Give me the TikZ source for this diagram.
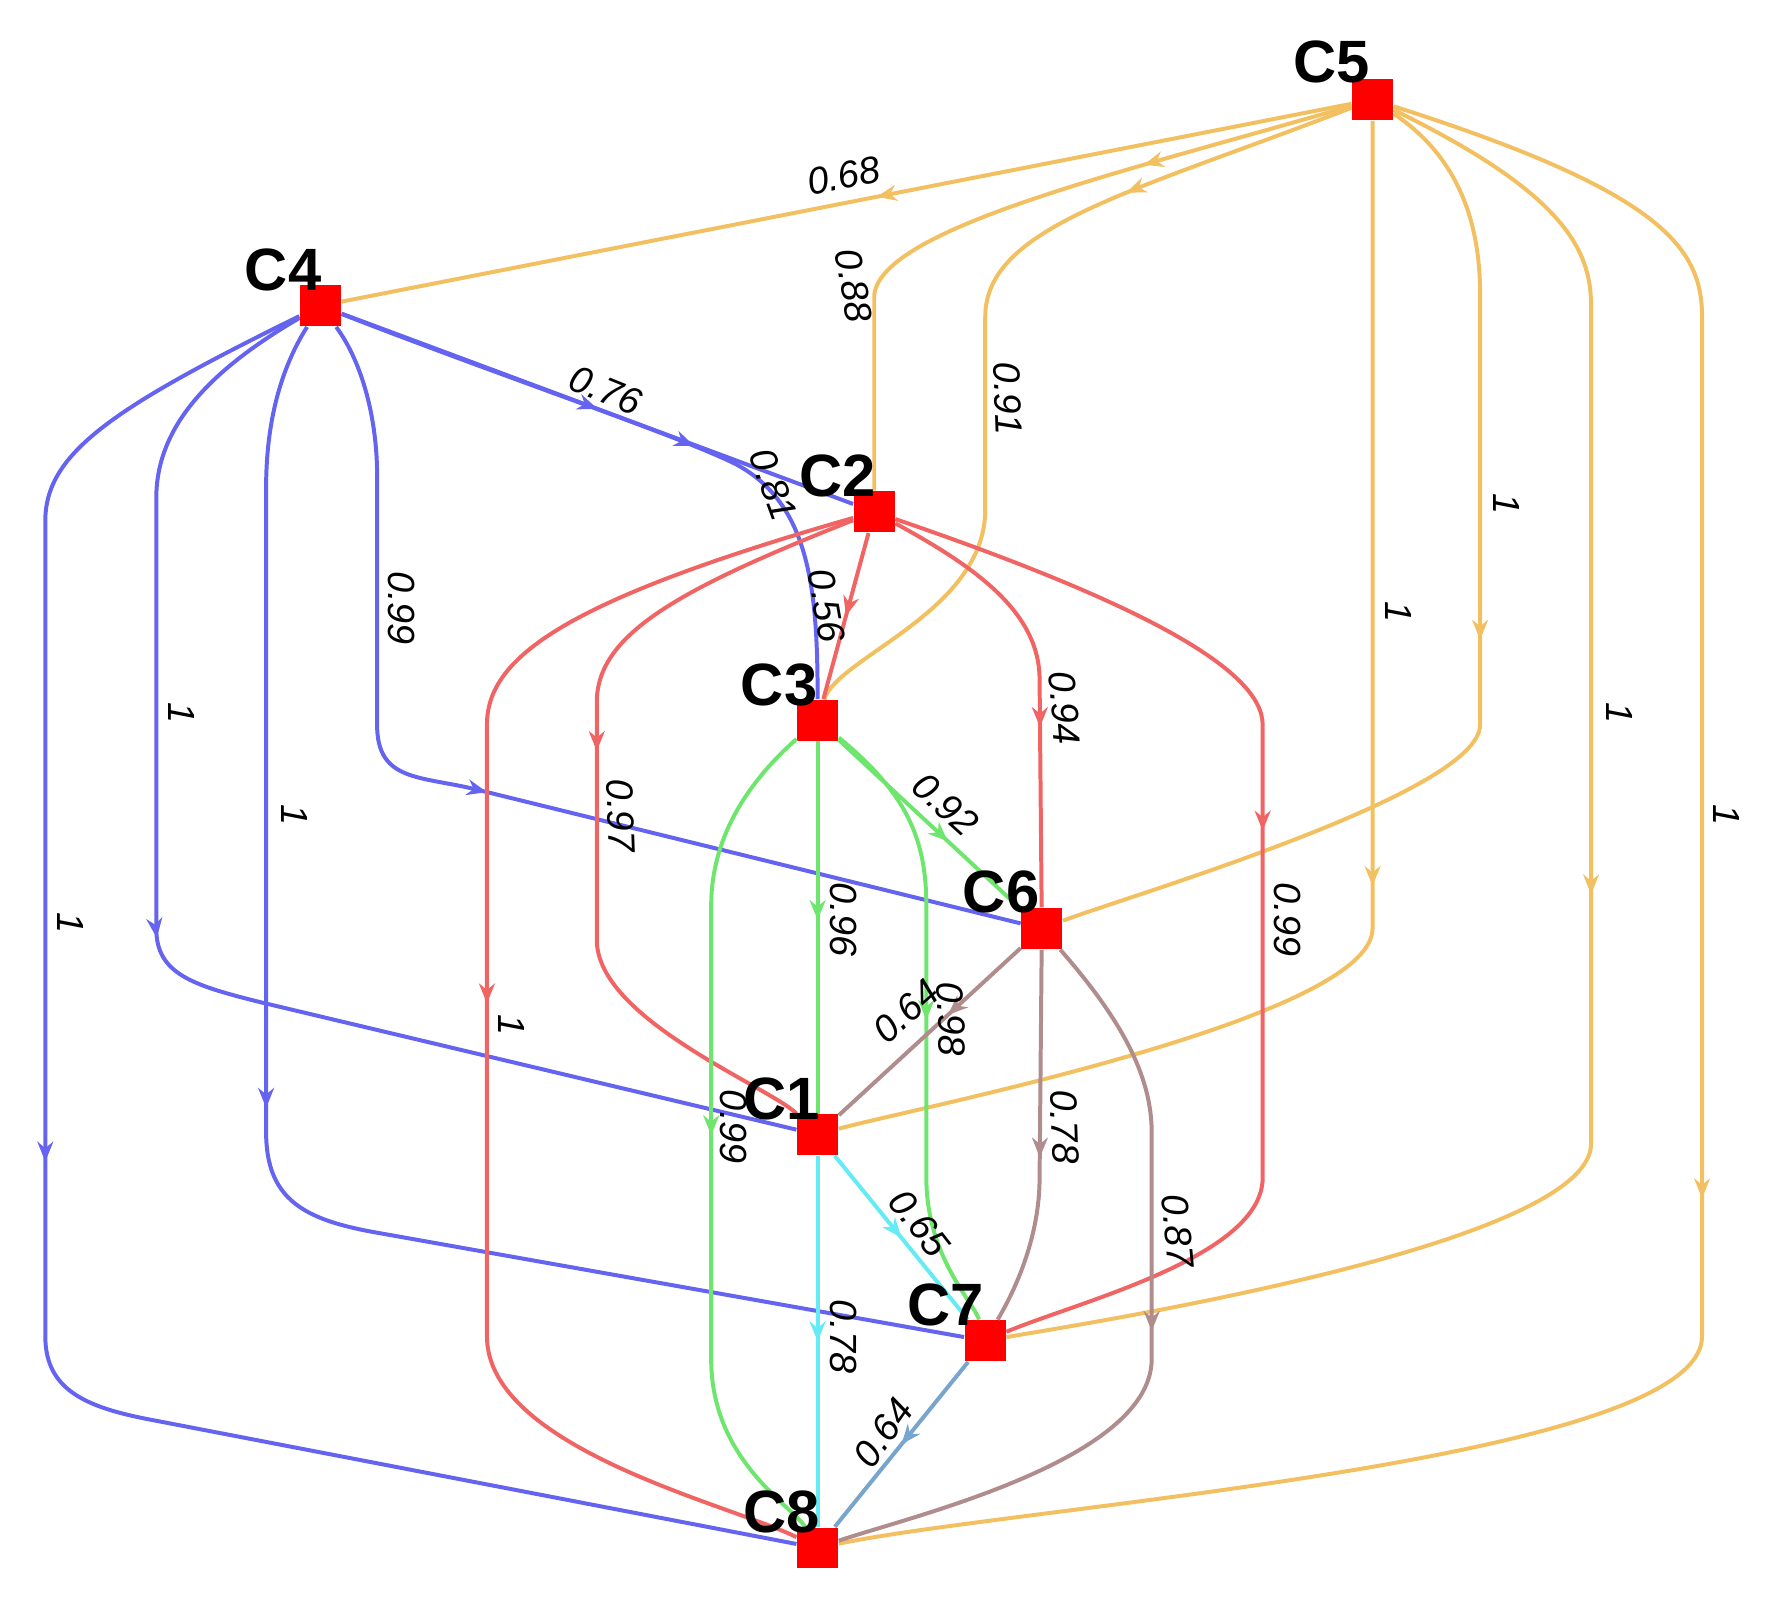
\documentclass[tikz,border=0pt]{standalone}
\usepackage{fontspec}
\setmainfont{Liberation Sans}
\usetikzlibrary{arrows.meta,decorations.markings}
\definecolor{eor}{RGB}{242,192,96}
\definecolor{ebl}{RGB}{100,100,240}
\definecolor{ere}{RGB}{240,100,100}
\definecolor{egr}{RGB}{110,230,110}
\definecolor{ebr}{RGB}{176,140,140}
\definecolor{ecy}{RGB}{100,235,245}
\definecolor{est}{RGB}{120,165,205}
\begin{document}
\begin{tikzpicture}[x=0.01cm,y=-0.01cm,
  sq/.style={fill=red,minimum size=0.36cm,inner sep=0,draw=none},
  nl/.style={font=\bfseries\fontsize{15}{15}\selectfont},
  lab/.style={font=\itshape\fontsize{9.5}{10}\selectfont,inner sep=0},
  e/.style={line width=1pt},
  ma/.style={postaction={decorate,decoration={markings,mark=at position #1 with {\arrow{Stealth[length=5pt,width=4pt]}}}}},
  o/.style={e,eor},b/.style={e,ebl},r/.style={e,ere},g/.style={e,egr},br/.style={e,ebr},cy/.style={e,ecy},st/.style={e,est}]
\useasboundingbox (0,0) rectangle (1563,1412);
\node[sq] (C5) at (1212,88) {};
\node[sq] (C4) at (283,270) {};
\node[sq] (C2) at (772,452) {};
\node[sq] (C3) at (722,636) {};
\node[sq] (C6) at (920,820) {};
\node[sq] (C1) at (722,1002) {};
\node[sq] (C7) at (870,1184) {};
\node[sq] (C8) at (722,1367) {};
% orange
\draw[o,ma=.47] (C5) -- (C4);
\draw[o,ma=.3] (C5) .. controls (1000,150) and (780,200) .. (772,260) -- (C2);
\draw[o,ma=.27] (C5) .. controls (1000,170) and (870,200) .. (870,280) -- (870,450) .. controls (870,540) and (740,580) .. (C3);
\draw[o,ma=.5] (C5) .. controls (1290,140) and (1307,200) .. (1307,260) -- (1307,640) .. controls (1307,700) and (1000,790) .. (C6);
\draw[o,ma=.55] (C5) -- (1212,820) .. controls (1212,900) and (800,980) .. (C1);
\draw[o,ma=.5] (C5) .. controls (1380,170) and (1405,220) .. (1405,270) -- (1405,1010) .. controls (1405,1100) and (950,1170) .. (C7);
\draw[o,ma=.55] (C5) .. controls (1470,170) and (1503,220) .. (1503,280) -- (1503,1180) .. controls (1503,1290) and (900,1330) .. (C8);
% blue
\draw[b,ma=.5] (C4) -- (C2);
\draw[b,ma=.55] (C4) .. controls (450,335) and (600,385) .. (650,410) .. controls (715,445) and (722,520) .. (C3);
\draw[b,ma=.5] (C4) .. controls (320,320) and (333,370) .. (333,420) -- (333,640) .. controls (333,690) and (370,685) .. (420,697) -- (C6);
\draw[b,ma=.5] (C4) .. controls (180,330) and (138,380) .. (138,440) -- (138,820) .. controls (138,860) and (170,870) .. (230,885) -- (C1);
\draw[b,ma=.5] (C4) .. controls (245,330) and (235,380) .. (235,430) -- (235,1000) .. controls (235,1060) and (270,1077) .. (330,1088) -- (C7);
\draw[b,ma=.5] (C4) .. controls (100,360) and (40,400) .. (40,460) -- (40,1180) .. controls (40,1230) and (80,1244) .. (140,1255) -- (C8);
% red
\draw[r,ma=.5] (C2) -- (C3);
\draw[r,ma=.6] (C2) .. controls (860,500) and (918,540) .. (918,600) -- (C6);
\draw[r,ma=.45] (C2) .. controls (600,520) and (527,560) .. (527,620) -- (527,830) .. controls (527,900) and (680,960) .. (C1);
\draw[r,ma=.5] (C2) .. controls (500,530) and (430,580) .. (430,640) -- (430,1180) .. controls (430,1280) and (650,1330) .. (C8);
\draw[r,ma=.45] (C2) .. controls (1000,530) and (1115,590) .. (1115,640) -- (1115,1040) .. controls (1115,1110) and (950,1150) .. (C7);
% green
\draw[g,ma=.6] (C3) -- (C6);
\draw[g,ma=.48] (C3) -- (C1);
\draw[g,ma=.5] (C3) .. controls (800,700) and (818,740) .. (818,800) -- (818,1040) .. controls (818,1110) and (860,1150) .. (C7);
\draw[g,ma=.5] (C3) .. controls (650,700) and (628,750) .. (628,800) -- (628,1200) .. controls (628,1290) and (700,1330) .. (C8);
% brown
\draw[br,ma=.4] (C6) -- (C1);
\draw[br,ma=.55] (C6) -- (918,1040) .. controls (918,1100) and (890,1150) .. (C7);
\draw[br,ma=.5] (C6) .. controls (990,900) and (1017,950) .. (1017,1000) -- (1017,1200) .. controls (1017,1290) and (800,1340) .. (C8);
% cyan / steel
\draw[cy,ma=.5] (C1) -- (C7);
\draw[cy,ma=.5] (C1) -- (C8);
\draw[st,ma=.5] (C7) -- (C8);
% names
\node[nl] (n5) at (1176,55) {C5};
\node[nl] (n4) at (250,238) {C4};
\node[nl] (n2) at (740,420) {C2};
\node[nl] (n3) at (688,605) {C3};
\node[nl] (n6) at (884,788) {C6};
\node[nl] (n1) at (690,970) {C1};
\node[nl] (n7) at (835,1152) {C7};
\node[nl] (n8) at (690,1335) {C8};
% labels
\node[lab,rotate=11] (l1) at (745,155) {0.68};
\node[lab,rotate=-80] (l2) at (754,252) {0.88};
\node[lab,rotate=-88] (l3) at (890,352) {0.91};
\node[lab,rotate=-90] (l4) at (1330,445) {1};
\node[lab,rotate=-90] (l5) at (1235,540) {1};
\node[lab,rotate=-90] (l6) at (1430,630) {1};
\node[lab,rotate=-90] (l7) at (1525,720) {1};
\node[lab,rotate=-22] (l8) at (535,345) {0.76};
\node[lab,rotate=-70] (l9) at (683,428) {0.81};
\node[lab,rotate=-90] (l10) at (355,537) {0.99};
\node[lab,rotate=-90] (l11) at (160,630) {1};
\node[lab,rotate=-90] (l12) at (260,720) {1};
\node[lab,rotate=-90] (l13) at (62,815) {1};
\node[lab,rotate=-80] (l14) at (730,535) {0.56};
\node[lab,rotate=-85] (l15) at (940,625) {0.94};
\node[lab,rotate=-88] (l16) at (548,720) {0.97};
\node[lab,rotate=-90] (l17) at (452,905) {1};
\node[lab,rotate=-90] (l18) at (1137,812) {0.99};
\node[lab,rotate=-42] (l19) at (835,710) {0.92};
\node[lab,rotate=-90] (l20) at (745,812) {0.96};
\node[lab,rotate=-88] (l21) at (840,900) {0.98};
\node[lab,rotate=-90] (l22) at (648,995) {0.99};
\node[lab,rotate=42] (l23) at (800,893) {0.64};
\node[lab,rotate=-88] (l24) at (940,995) {0.78};
\node[lab,rotate=-85] (l25) at (1040,1087) {0.87};
\node[lab,rotate=-52] (l26) at (812,1080) {0.65};
\node[lab,rotate=-90] (l27) at (745,1180) {0.78};
\node[lab,rotate=55] (l28) at (780,1265) {0.64};
\end{tikzpicture}
\end{document}
